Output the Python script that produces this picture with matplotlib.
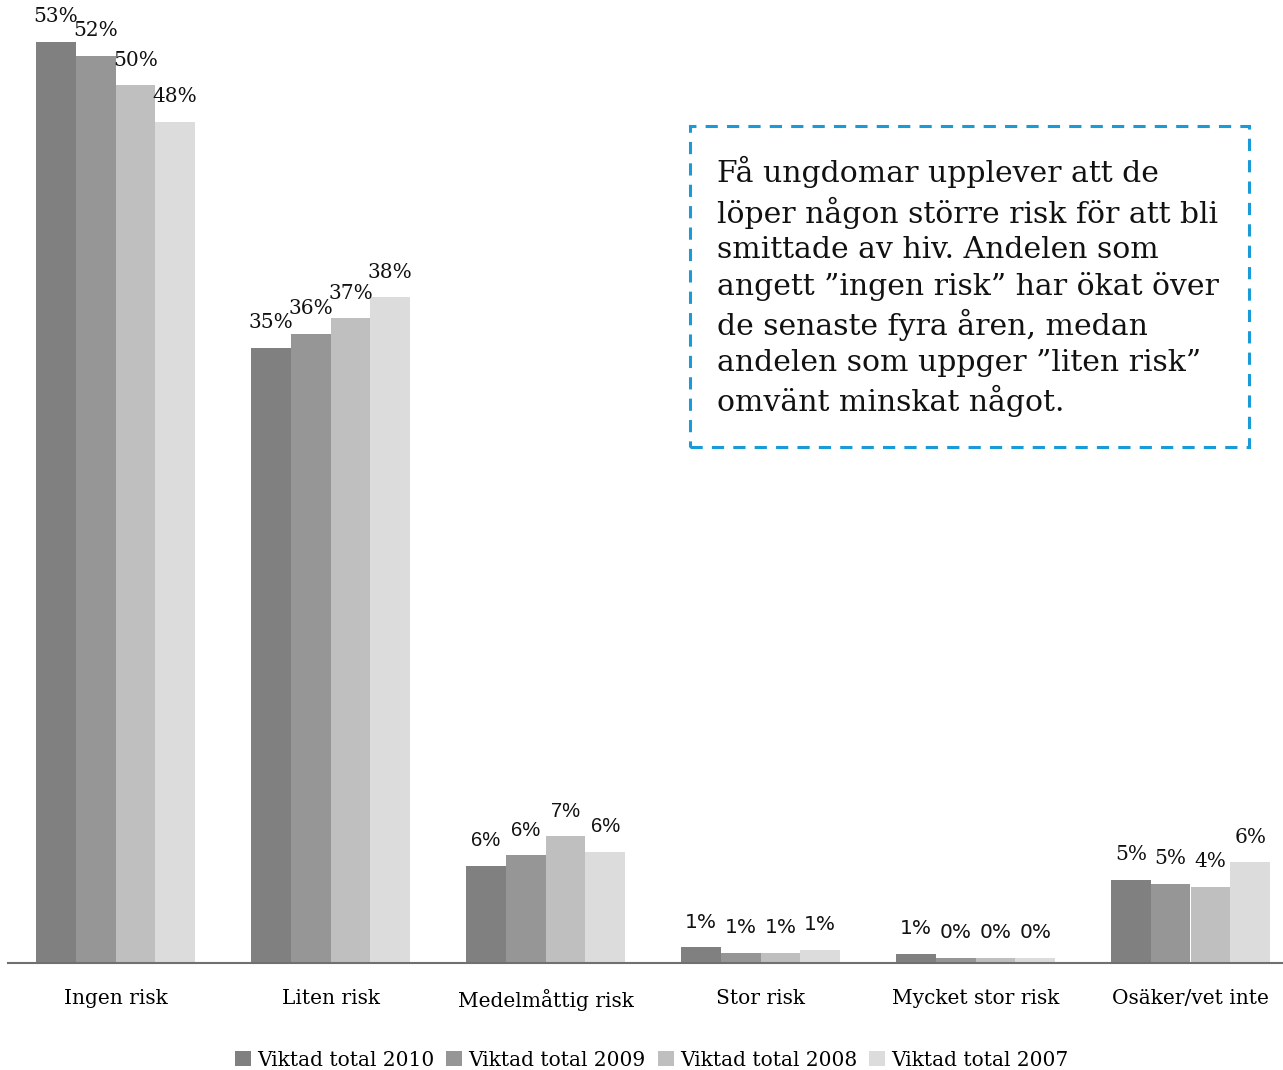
import numpy as np
import matplotlib
matplotlib.use("Agg")
import matplotlib.pyplot as plt
from matplotlib.patches import Rectangle

# kategorier och serier
categories = ["Ingen risk", "Liten risk", "Medelmåttig risk", "Stor risk", "Mycket stor risk", "Osäker/vet inte"]
series_names = ["Viktad total 2010", "Viktad total 2009", "Viktad total 2008", "Viktad total 2007"]
v2010 = [53.0, 35.4, 5.6, 0.9, 0.52, 4.8]
v2009 = [52.2, 36.2, 6.2, 0.6, 0.3, 4.55]
v2008 = [50.49, 37.1, 7.3, 0.6, 0.3, 4.4]
v2007 = [48.4, 38.3, 6.4, 0.75, 0.3, 5.8]
note = ("Få ungdomar upplever att de\n"
        "löper någon större risk för att bli\n"
        "smittade av hiv. Andelen som\n"
        "angett ”ingen risk” har ökat över\n"
        "de senaste fyra åren, medan\n"
        "andelen som uppger ”liten risk”\n"
        "omvänt minskat något.")

colors = ["#808080", "#969696", "#bfbfbf", "#dcdcdc"]
# etikettfont per kategori (originalet blandar typsnitt)
label_fonts = ["DejaVu Serif", "DejaVu Serif", "Liberation Sans", "DejaVu Sans", "DejaVu Sans", "DejaVu Serif"]

W, H = 1283, 1070
fig = plt.figure(figsize=(W / 100, H / 100), dpi=100)
ax = fig.add_axes([8 / W, 1 - 963 / H, 1290 / W, 963 / H])

x = np.arange(len(categories))
bw = 0.185
all_vals = [v2010, v2009, v2008, v2007]
for i, (vals, name, c) in enumerate(zip(all_vals, series_names, colors)):
    pos = x + (i - 1.5) * bw
    ax.bar(pos, vals, width=bw, color=c, label=name, linewidth=0)
    for p, v, f in zip(pos, vals, label_fonts):
        ax.annotate(f"{v:.0f}%", (p, v), xytext=(0, 18), textcoords="offset points",
                    ha="center", va="center", fontsize=14.5, family=f, color="#111111")

ax.set_xlim(-0.5, 5.5)
ax.set_ylim(0, 55.4)
ax.set_yticks([])
ax.set_xticks(x)
ax.set_xticklabels(categories, fontsize=14.5, family="DejaVu Serif")
ax.tick_params(axis="x", length=0, pad=19)
for s in ["top", "right", "left"]:
    ax.spines[s].set_visible(False)
ax.spines["bottom"].set_color("#707070")
ax.spines["bottom"].set_linewidth(1.5)

# textruta med streckad blå ram
box = Rectangle((690 / W, 1 - 447 / H), 559 / W, 321 / H, transform=fig.transFigure,
                fill=False, edgecolor="#1a9bd7", linewidth=2.2, linestyle=(0, (4, 3)))
fig.add_artist(box)
fig.text(717 / W, 1 - 156 / H, note, fontsize=21.5, family="DejaVu Serif",
         va="top", ha="left", linespacing=1.33, color="#111111")

leg = fig.legend(loc="center", bbox_to_anchor=(0.508, 1 - 1060 / H), ncol=4, frameon=False,
                 prop={"family": "DejaVu Serif", "size": 14.5}, handlelength=0.8, handleheight=0.8,
                 handletextpad=0.3, columnspacing=0.6)

fig.savefig("out.png", dpi=100)
